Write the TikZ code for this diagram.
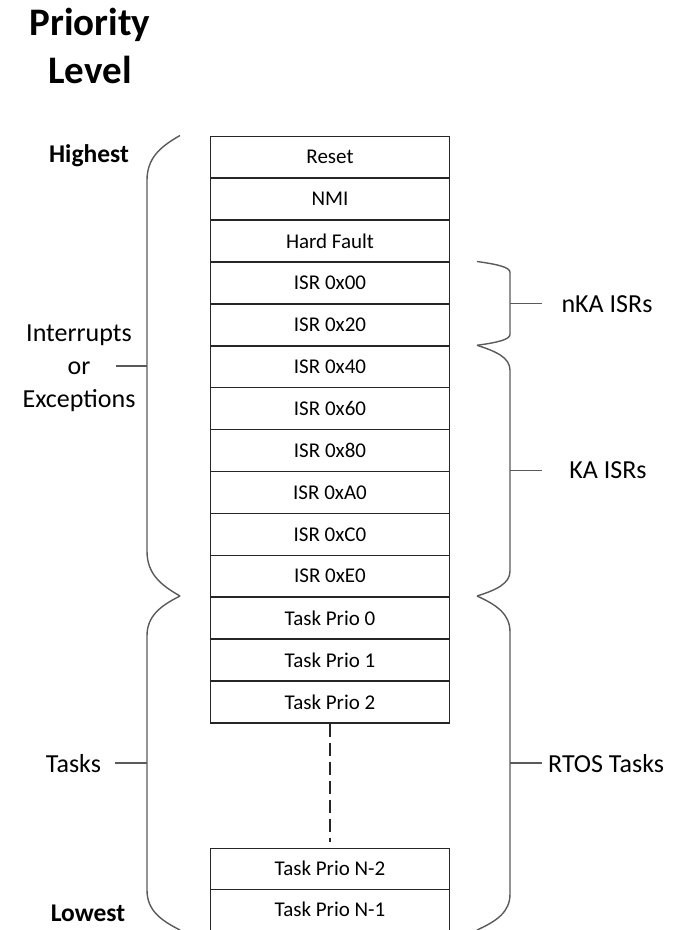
\documentclass[tikz,border=0pt]{standalone}
\usepackage{fontspec}
\setmainfont{Carlito}
\definecolor{boxline}{HTML}{262626}
\definecolor{braceline}{HTML}{5A5A5A}
% vertical brace: tip x, top y, bottom y, offset of the straight part, bend height
\newcommand{\pbrace}[5]{%
  \draw[brace] (#1,#2) .. controls ({#1+0.6*(#4)},{#2+0.25*(#5)}) and ({#1+(#4)},{#2+0.5*(#5)}) .. ({#1+(#4)},{#2+(#5)})
    -- ({#1+(#4)},{#3-(#5)}) .. controls ({#1+(#4)},{#3-0.5*(#5)}) and ({#1+0.6*(#4)},{#3-0.25*(#5)}) .. (#1,#3);}
\begin{document}
\begin{tikzpicture}[x=1pt,y=-1pt,
  cell/.style={draw=boxline,line width=1.5pt,minimum width=239pt,minimum height=41.9pt,
    inner sep=0pt,anchor=north,font=\fontsize{21}{24}\selectfont},
  brace/.style={draw=braceline,line width=1.4pt},
  tick/.style={draw=braceline,line width=1.4pt},
  lbl/.style={font=\fontsize{26}{33}\selectfont,align=center,inner sep=0pt},
  lvl/.style={font=\bfseries\fontsize{25.5}{30}\selectfont,inner sep=0pt,anchor=base},
  ttl/.style={font=\bfseries\fontsize{39}{48}\selectfont,inner sep=0pt,anchor=base}]
\useasboundingbox (0,0) rectangle (690,930);

% title
\node[ttl] (t1) at (90,35) {Priority};
\node[ttl] (t2) at (90,83) {Level};

% priority stack
\foreach \t [count=\i from 0] in {Reset,NMI,Hard Fault,ISR 0x00,ISR 0x20,ISR 0x40,ISR 0x60,
    ISR 0x80,ISR 0xA0,ISR 0xC0,ISR 0xE0,Task Prio 0,Task Prio 1,Task Prio 2}
  \node[cell] (r\i) at (330,{135.5+\i*41.9}) {\t};
\node[cell,minimum height=41pt] (n2) at (330,847.5) {Task Prio N-2};
\node[cell,minimum height=41pt] (n1) at (330,888.5) {Task Prio N-1};
\draw[boxline,line width=1.4pt,dash pattern=on 13pt off 6pt] (r13.south) -- ([yshift=6pt]n2.north);

% level labels
\node[lvl] (hi) at (89,162) {Highest};
\node[lvl] (lo) at (88,921) {Lowest};

% left braces
\pbrace{180}{135.5}{596}{-33}{45}
\pbrace{180}{596}{930}{-33}{40}
\node[lbl] (irq) at (79,368) {Interrupts\\or\\Exceptions};
\coordinate (irqb) at (147,366);
\coordinate (irqt) at (116,366);
\draw[tick] (irqb) -- (irqt);
\node[lbl,anchor=base] (tsk) at (73.5,772) {Tasks};
\coordinate (tskb) at (147,763);
\coordinate (tskt) at (115,763);
\draw[tick] (tskb) -- (tskt);

% right braces
\pbrace{477}{261.5}{345.3}{33}{11}
\pbrace{477}{345.3}{596}{33}{25}
\pbrace{477}{596}{930}{33}{36}
\node[lbl,anchor=base] (nka) at (607,312) {nKA ISRs};
\node[lbl,anchor=base] (ka) at (608,478) {KA ISRs};
\node[lbl,anchor=base west] (rtos) at (548,772) {RTOS Tasks};
\coordinate (nkab) at (510,303.4);
\coordinate (nkat) at (542,303.4);
\coordinate (kab) at (510,470.7);
\coordinate (kat) at (542,470.7);
\coordinate (rtb) at (510,763);
\coordinate (rtt) at (542,763);
\draw[tick] (nkab) -- (nkat);
\draw[tick] (kab) -- (kat);
\draw[tick] (rtb) -- (rtt);
\end{tikzpicture}
\end{document}
